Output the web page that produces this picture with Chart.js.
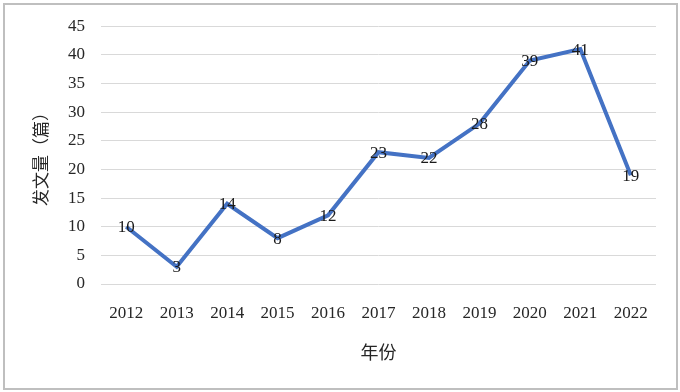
<!DOCTYPE html>
<html>
<head>
<meta charset="utf-8">
<script src="https://cdn.jsdelivr.net/npm/chart.js@4"></script>
<style>
  body { margin: 0; background: #fff; }
  #wrap { position: relative; width: 680px; height: 392px; }
  #frame { position: absolute; left: 3px; top: 3px; width: 671px; height: 383px; border: 2px solid #bfbfbf; pointer-events: none; }
</style>
</head>
<body>
<div id="wrap">
  <canvas id="c" width="680" height="392"></canvas>
  <div id="frame"></div>
</div>
<script>
// data
const years = ['2012', '2013', '2014', '2015', '2016', '2017', '2018', '2019', '2020', '2021', '2022'];
const counts = [10, 3, 14, 8, 12, 23, 22, 28, 39, 41, 19];

const serif = '"Liberation Serif", "Noto Sans CJK SC", serif';
const cjk = '"Noto Sans CJK SC", sans-serif';

// value labels sitting on the points
const pointLabels = {
  id: 'pointLabels',
  afterDatasetsDraw(chart) {
    const ctx = chart.ctx;
    const meta = chart.getDatasetMeta(0);
    ctx.save();
    ctx.font = '17px ' + serif;
    ctx.fillStyle = '#1a1a1a';
    ctx.textAlign = 'center';
    ctx.textBaseline = 'middle';
    meta.data.forEach(function (pt, i) {
      ctx.fillText(String(counts[i]), pt.x, pt.y + 1);
    });
    ctx.restore();
  }
};

new Chart(document.getElementById('c'), {
  type: 'line',
  data: {
    labels: years,
    datasets: [{
      data: counts,
      borderColor: '#4472C4',
      borderWidth: 4,
      tension: 0,
      pointRadius: 0,
      fill: false
    }]
  },
  options: {
    responsive: false,
    animation: false,
    layout: { padding: { top: 25, right: 24, left: 0, bottom: 0 } },
    plugins: { legend: { display: false }, tooltip: { enabled: false } },
    scales: {
      x: {
        offset: true,
        grid: { display: false, drawTicks: false },
        border: { display: false },
        ticks: { color: '#262626', font: { family: serif, size: 17 }, padding: 19, maxRotation: 0 },
        title: { display: true, text: '年份', color: '#262626', font: { family: cjk, size: 18 }, padding: { top: 0, bottom: 29 } },
        afterFit(scale) { scale.height = 108; }
      },
      y: {
        min: 0,
        max: 45,
        ticks: { stepSize: 5, color: '#262626', font: { family: serif, size: 17 }, padding: 16 },
        grid: { color: '#d9d9d9', lineWidth: 1, drawTicks: false },
        border: { display: false },
        title: { display: true, text: '发文量（篇）', color: '#262626', font: { family: cjk, size: 17 }, padding: { top: 30, bottom: 0 } },
        afterFit(scale) { scale.width = 101; }
      }
    }
  },
  plugins: [pointLabels]
});
</script>
</body>
</html>
